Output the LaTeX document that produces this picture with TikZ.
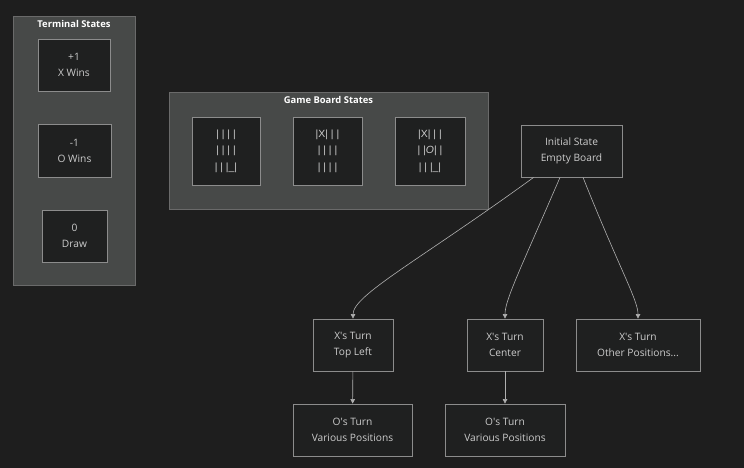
\documentclass[tikz,border=0pt]{standalone}
\usepackage{fontspec}
\setmainfont{Open Sans}
\newfontfamily\boardfont{Liberation Sans}
\usetikzlibrary{arrows.meta}
\definecolor{bg}{HTML}{1E1E1E}
\definecolor{clfill}{HTML}{474948}
\definecolor{clline}{HTML}{6A6A6A}
\definecolor{ndfill}{HTML}{1F2020}
\definecolor{ndline}{HTML}{8C8C8C}
\definecolor{txt}{HTML}{CCCCCC}
\definecolor{edge}{HTML}{B0B0B0}
\newcommand{\sq}{\textquotesingle}
\begin{document}
\begin{tikzpicture}[x=1pt,y=-1pt,
  cluster/.style={draw=clline,fill=clfill,line width=0.8pt},
  box/.style={draw=ndline,fill=ndfill,line width=0.8pt},
  lbl/.style={text=txt,font=\fontsize{10.2}{16}\selectfont,align=center,inner sep=0pt},
  blbl/.style={text=txt,font=\boardfont\fontsize{10.4}{16.5}\selectfont,align=center,inner sep=0pt},
  ttl/.style={text=white,font=\fontsize{9.4}{11}\selectfont\bfseries,inner sep=0pt},
  conn/.style={draw=edge,line width=0.6pt,-{Triangle[length=4.5pt,width=4.5pt]}}]
\useasboundingbox (0,0) rectangle (744,468);
\fill[bg] (0,0) rectangle (744,468);
% clusters
\draw[cluster] (13,16) rectangle (135,285);
\node[ttl] (tsT) at (74,23.5) {Terminal States};
\draw[cluster] (169,92) rectangle (488,209);
\node[ttl] (gbT) at (328.5,99.5) {Game Board States};
% terminal nodes
\draw[box] (38,39) rectangle (110,91);
\node[lbl] (xw) at (74,65) {+1\\X Wins};
\draw[box] (38,124) rectangle (111,177);
\node[lbl] (ow) at (74.5,150.5) {-1\\O Wins};
\draw[box] (42,210) rectangle (107,262);
\node[lbl] (dr) at (74.5,236) {0\\Draw};
% board nodes
\draw[box] (192,117) rectangle (260,185);
\node[blbl] (b1) at (226,151) {| | | |\\| | | |\\| | |\_|};
\draw[box] (293,117) rectangle (362,185);
\node[blbl] (b2) at (327.5,151) {|X| | |\\| | | |\\| | | |};
\draw[box] (395,117) rectangle (465,185);
\node[blbl] (b3) at (430,151) {|X| | |\\| |\textit{O}| |\\| | |\_|};
% tree nodes
\node[box,minimum width=101pt,minimum height=52pt,inner sep=0pt] (init) at (571.5,151) {};
\node[lbl] at (init) {Initial State\\Empty Board};
\node[box,minimum width=80pt,minimum height=52pt,inner sep=0pt] (xtl) at (353,345) {};
\node[lbl] at (xtl) {X\sq s Turn\\Top Left};
\node[box,minimum width=76pt,minimum height=52pt,inner sep=0pt] (xc) at (505,345) {};
\node[lbl] at (xc) {X\sq s Turn\\Center};
\node[box,minimum width=124pt,minimum height=52pt,inner sep=0pt] (xo) at (638,345) {};
\node[lbl] at (xo) {X\sq s Turn\\Other Positions...};
\node[box,minimum width=119pt,minimum height=52pt,inner sep=0pt] (o1) at (352.5,430) {};
\node[lbl] at (o1) {O\sq s Turn\\Various Positions};
\node[box,minimum width=120pt,minimum height=52pt,inner sep=0pt] (o2) at (505,430) {};
\node[lbl] at (o2) {O\sq s Turn\\Various Positions};
% edges
\draw[conn] (init.south west) ++(13,0) .. controls (420,260) and (353,295) .. (xtl.north);
\draw[conn] (init.south) ++(-11.5,0) .. controls (520,270) and (505,300) .. (xc.north);
\draw[conn] (init.south) ++(11.5,0) .. controls (620,270) and (638,300) .. (xo.north);
\draw[conn] (xtl) -- (o1);
\draw[conn] (xc) -- (o2);
\end{tikzpicture}
\end{document}
